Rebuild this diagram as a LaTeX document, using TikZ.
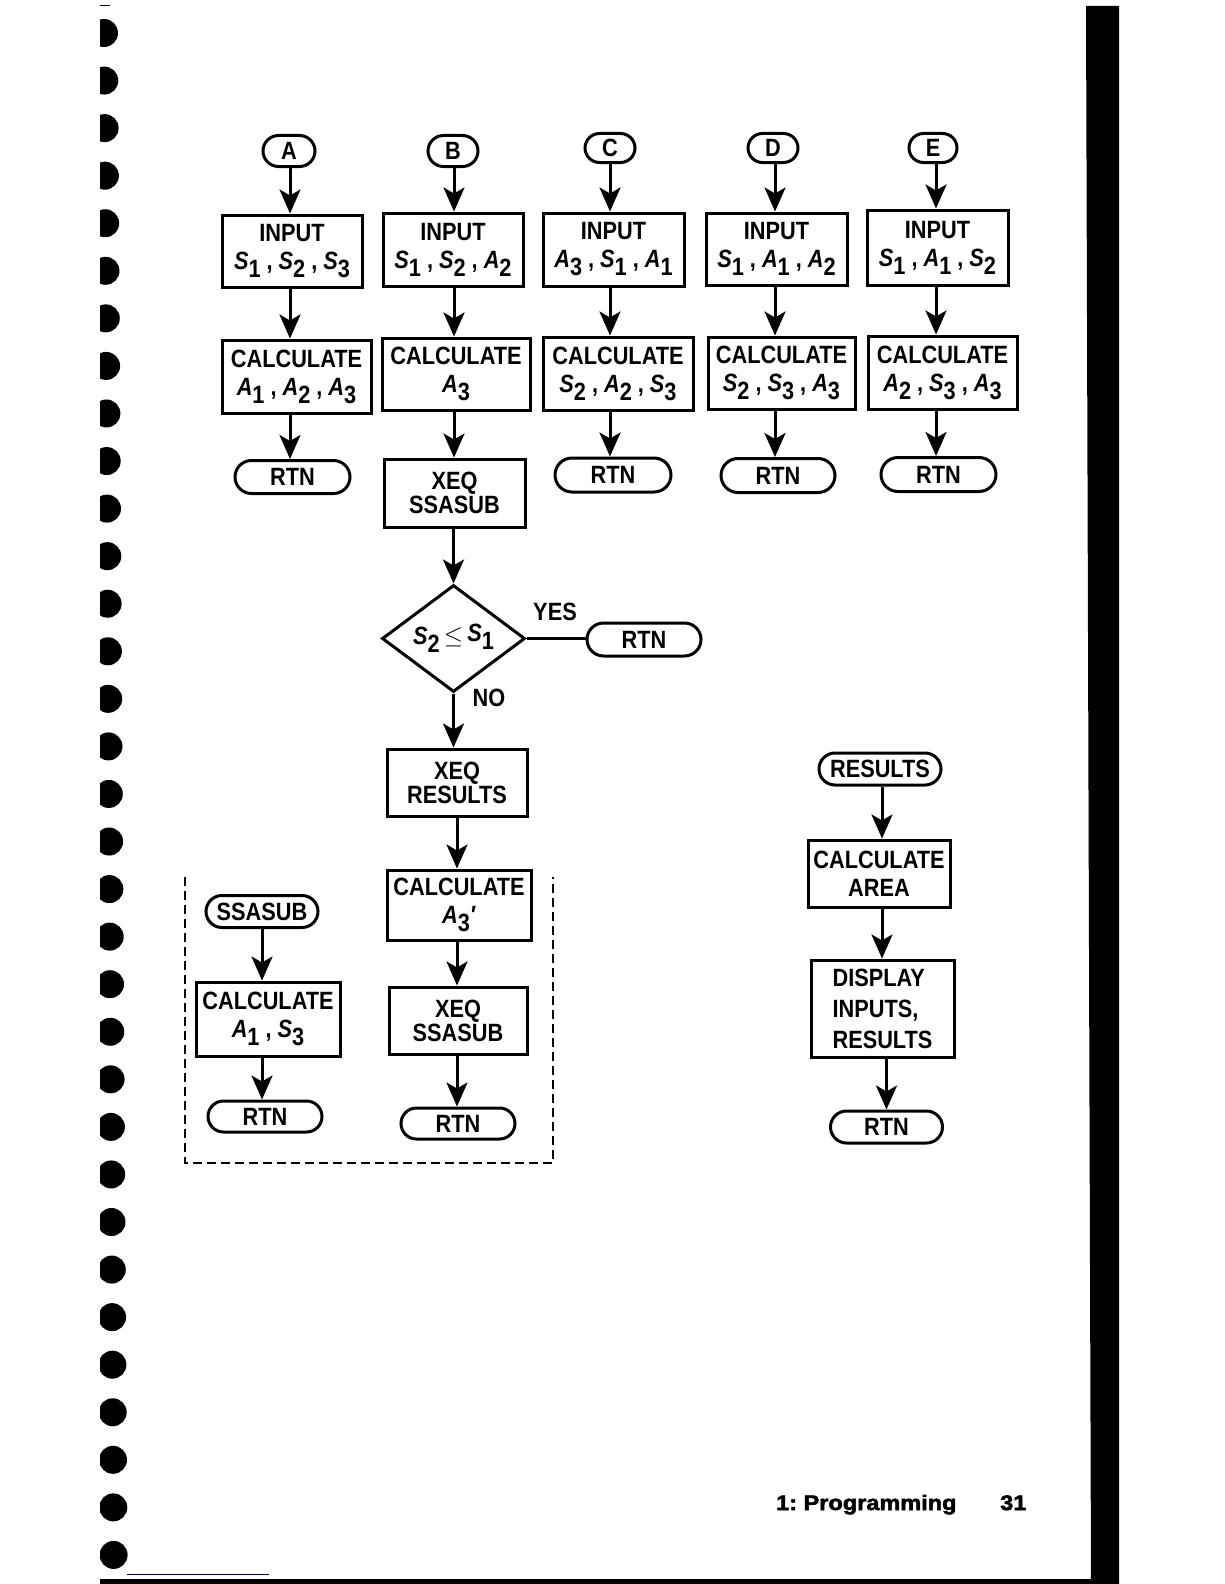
\documentclass[tikz,border=0pt]{standalone}
\usepackage{fontspec}
\setmainfont{Liberation Sans}
\newfontfamily\hv[FakeStretch=0.87]{Liberation Sans}
\newfontfamily\hvb[FakeStretch=1.12,FakeBold=2.5]{Liberation Sans}
\usetikzlibrary{arrows.meta,shapes.geometric,shapes.misc}
\newcommand\vv[2]{\textit{#1}\raisebox{-8pt}{\fontsize{25}{25}\selectfont #2}}
\newcommand\cmm{\hspace{6pt},\hspace{6pt}}
\begin{document}
\begin{tikzpicture}[x=1pt,y=-1pt,
  box/.style={draw,line width=3pt,inner sep=0pt,align=center,font=\hv\bfseries\fontsize{25}{23}\selectfont},
  term/.style={rounded rectangle,draw,line width=3pt,inner sep=0pt,font=\hv\bfseries\fontsize{25}{22}\selectfont},
  lab/.style={inner sep=0pt,font=\hv\bfseries\fontsize{25}{22}\selectfont},
  arr/.style={line width=3pt,-{Stealth[length=24pt,width=21pt,inset=6pt]}},
  link/.style={line width=3pt},
  frame/.style={line width=1.4pt,dash pattern=on 9pt off 5pt},
  sz/.style 2 args={minimum width=#1pt,minimum height=#2pt}]
\useasboundingbox (0,0) rectangle (1224,1584);
\fill[white] (0,0) rectangle (1224,1584);

% scan decor: binding holes, right edge bar, bottom bar
\begin{scope}
  \clip (100,0) rectangle (140,1584);
  \foreach \i in {0,...,32}{
    \fill[black] ({104+\i*0.3},{33+\i*47.56}) circle[radius=14pt];
  }
\end{scope}
\draw[line width=1pt] (100,6) -- (110,6);
\fill[black] (1086,6) -- (1119,6) -- (1119,1584) -- (1091,1584) -- cycle;
\fill[black] (100,1579) rectangle (1119,1584);
\draw[line width=1pt,blue!40!black] (127,1574) -- (269,1574);

% column coordinates
\coordinate (kA) at (290,0);
\coordinate (kB) at (454,0);
\coordinate (kC) at (610,0);
\coordinate (kD) at (775,0);
\coordinate (kE) at (936,0);
\coordinate (kM) at (457,0);
\coordinate (kS) at (262,0);
\coordinate (kR) at (882,0);

% row 1: entry ovals
\node[term,sz={52}{31}] (oA) at (289,151) {A};
\node[term,sz={50}{31}] (oB) at (453,151) {B};
\node[term,sz={50}{29}] (oC) at (610,148) {C};
\node[term,sz={50}{29}] (oD) at (773,148) {D};
\node[term,sz={48}{29}] (oE) at (933,148) {E};

% input boxes
\node[box,sz={140}{72}] (iA) at (292,251) {INPUT\\[5pt]\vv{S}{1}\cmm\vv{S}{2}\cmm\vv{S}{3}};
\node[box,sz={140}{73}] (iB) at (453,249.5) {INPUT\\[5pt]\vv{S}{1}\cmm\vv{S}{2}\cmm\vv{A}{2}};
\node[box,sz={141}{73}] (iC) at (613.5,249.5) {INPUT\\[5pt]\vv{A}{3}\cmm\vv{S}{1}\cmm\vv{A}{1}};
\node[box,sz={141}{72}] (iD) at (776.5,249) {INPUT\\[5pt]\vv{S}{1}\cmm\vv{A}{1}\cmm\vv{A}{2}};
\node[box,sz={141}{75}] (iE) at (937.5,247.5) {INPUT\\[5pt]\vv{S}{1}\cmm\vv{A}{1}\cmm\vv{S}{2}};

% calculate boxes
\node[box,sz={149}{73}] (cA) at (296.5,376.5) {CALCULATE\\[5pt]\vv{A}{1}\cmm\vv{A}{2}\cmm\vv{A}{3}};
\node[box,sz={148}{72}] (cB) at (456,374) {CALCULATE\\[5pt]\vv{A}{3}};
\node[box,sz={150}{73}] (cC) at (618,373.5) {CALCULATE\\[5pt]\vv{S}{2}\cmm\vv{A}{2}\cmm\vv{S}{3}};
\node[box,sz={147}{72}] (cD) at (781.5,373) {CALCULATE\\[5pt]\vv{S}{2}\cmm\vv{S}{3}\cmm\vv{A}{3}};
\node[box,sz={149}{73}] (cE) at (942.5,372.5) {CALCULATE\\[5pt]\vv{A}{2}\cmm\vv{S}{3}\cmm\vv{A}{3}};

% third row
\node[term,sz={115}{33}] (rA) at (292.5,477) {RTN};
\node[box,sz={141}{68}] (xB) at (454.5,493) {XEQ\\[1pt]SSASUB};
\node[term,sz={116}{34}] (rC) at (613,475) {RTN};
\node[term,sz={114}{34}] (rD) at (778,475.5) {RTN};
\node[term,sz={115}{34}] (rE) at (938.5,474.5) {RTN};

% decision
\node[diamond,draw,line width=3pt,inner sep=0pt,aspect=1.34,minimum width=143pt,minimum height=107pt,font=\hv\bfseries\fontsize{25}{22}\selectfont] (dia) at (453.5,638.5) {\vv{S}{2}\,\raisebox{1pt}{\fontsize{28}{28}\selectfont$\leq$}\,\raisebox{3pt}{\vv{S}{1}}};
\node[lab] (yes) at (555,612) {YES};
\node[term,sz={114}{33}] (rY) at (644,639.5) {RTN};
\node[lab] (no) at (489,698) {NO};
\node[box,sz={140}{67}] (xR) at (457,782.5) {XEQ\\[1pt]RESULTS};
\node[box,sz={144}{70}] (cM) at (459,905) {CALCULATE\\[5pt]\vv{A}{3}\textit{′}};
\node[box,sz={138}{67}] (xS) at (458,1020.5) {XEQ\\[1pt]SSASUB};
\node[term,sz={114}{31}] (rM) at (458,1123.5) {RTN};

% SSASUB routine
\node[term,sz={112}{32}] (oS) at (262,911.5) {SSASUB};
\node[box,sz={144}{74}] (cS) at (268,1019) {CALCULATE\\[5pt]\vv{A}{1}\cmm\vv{S}{3}};
\node[term,sz={114}{31}] (rS) at (265,1116.5) {RTN};

% RESULTS routine
\node[term,sz={122}{32}] (oR) at (880,769) {RESULTS};
\node[box,sz={142}{67}] (cR) at (879,873.5) {CALCULATE\\[5pt]AREA};
\node[box,sz={143}{97},align=left] (dR) at (882.5,1008.5) {DISPLAY\\[8pt]INPUTS,\\[8pt]RESULTS};
\node[term,sz={112}{32}] (rR) at (886.5,1127) {RTN};

% dashed frame
\draw[frame] (185,877) -- (185,1163) -- (553,1163) -- (553,877);

% connectors
\foreach \c in {A,B,C,D,E}{
  \draw[arr] (o\c.south -| k\c) -- (i\c.north -| k\c);
  \draw[arr] (i\c.south -| k\c) -- (c\c.north -| k\c);
}
\draw[arr] (cA.south -| kA) -- (rA.north -| kA);
\draw[arr] (cB.south -| kB) -- (xB.north -| kB);
\draw[arr] (cC.south -| kC) -- (rC.north -| kC);
\draw[arr] (cD.south -| kD) -- (rD.north -| kD);
\draw[arr] (cE.south -| kE) -- (rE.north -| kE);
\draw[arr] (xB.south -| dia.north) -- (dia.north);
\draw[link] (dia.east) -- (dia.east -| rY.west);
\draw[arr] (dia.south) -- (dia.south |- xR.north);
\draw[arr] (xR.south -| kM) -- (cM.north -| kM);
\draw[arr] (cM.south -| kM) -- (xS.north -| kM);
\draw[arr] (xS.south -| kM) -- (rM.north -| kM);
\draw[arr] (oS.south -| kS) -- (cS.north -| kS);
\draw[arr] (cS.south -| kS) -- (rS.north -| kS);
\draw[arr] (oR.south -| kR) -- (cR.north -| kR);
\draw[arr] (cR.south -| kR) -- (dR.north -| kR);
\draw[arr] (dR.south -| rR.north) -- (rR.north);

% footer
\node[anchor=base west,inner sep=0pt,font=\hvb\bfseries\fontsize{21}{21}\selectfont] (pg) at (776,1510) {1:\ Programming};
\node[anchor=base west,inner sep=0pt,font=\hvb\bfseries\fontsize{21}{21}\selectfont] (num) at (1000,1510) {31};
\end{tikzpicture}
\end{document}
